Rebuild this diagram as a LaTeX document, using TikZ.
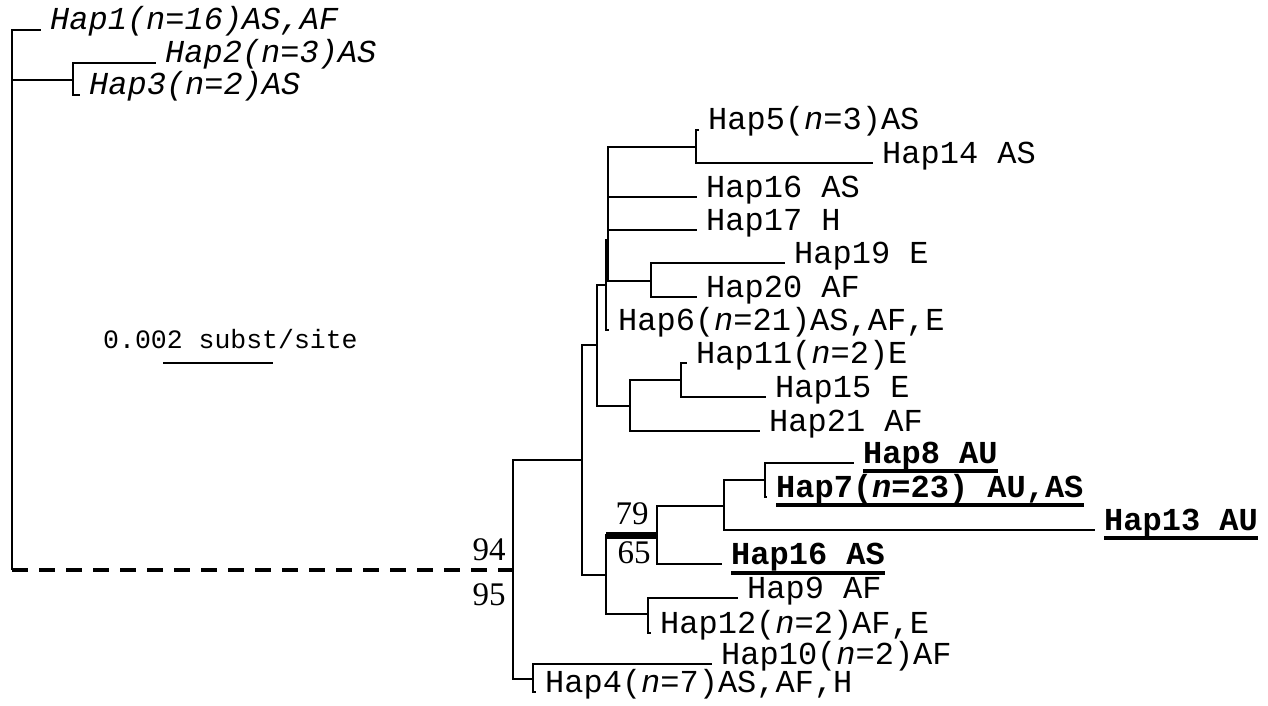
\documentclass[tikz,border=0pt]{standalone}
\usepackage{fontspec}
\setmainfont{Liberation Serif}
\setmonofont{Liberation Mono}
\usetikzlibrary{positioning,calc}
\tikzstyle{br}=[line width=2pt]
\tikzstyle{dsh}=[line width=4pt, dash pattern=on 16pt off 11pt]
\tikzstyle{thk}=[line width=7pt]
\tikzstyle{ul}=[line width=4pt]
\tikzstyle{lab}=[anchor=base west, inner sep=0pt, xshift=9pt, font=\fontsize{32}{36}\selectfont\ttfamily]
\tikzstyle{labi}=[lab, font=\fontsize{32}{36}\selectfont\ttfamily\itshape]
\tikzstyle{labb}=[lab, font=\fontsize{32}{36}\selectfont\ttfamily\bfseries]
\tikzstyle{bs}=[inner sep=0pt, font=\fontsize{33}{36}\selectfont]
\begin{document}
\begin{tikzpicture}[x=1pt,y=-1pt]
\useasboundingbox(0,0)rectangle(1268,706);
% inner nodes
\coordinate(r)at(12,80);
\coordinate(rb)at(12,570);
\coordinate(n23)at(73,80);
\coordinate(nR)at(513,570);
\coordinate(nA)at(582,460);
\coordinate(n597)at(597,345);
\coordinate(n606a)at(606,285);
\coordinate(n608)at(608,240);
\coordinate(n696)at(696,147);
\coordinate(n651)at(651,281);
\coordinate(n630)at(630,406);
\coordinate(n681)at(681,380);
\coordinate(n606b)at(606,575);
\coordinate(n657)at(657,535);
\coordinate(n724)at(724,506);
\coordinate(n765)at(765,480);
\coordinate(n648)at(648,614);
\coordinate(n533)at(533,679);
% tips
\coordinate(t1)at(41,30);
\coordinate(t2)at(156,63);
\coordinate(t3)at(80,95);
\coordinate(t5)at(699,130);
\coordinate(t14)at(873,163);
\coordinate(t16)at(697,197);
\coordinate(t17)at(697,230);
\coordinate(t19)at(785,263);
\coordinate(t20)at(697,297);
\coordinate(t6)at(609,330);
\coordinate(t11)at(687,363);
\coordinate(t15)at(766,397);
\coordinate(t21)at(760,431);
\coordinate(t8)at(854,463);
\coordinate(t7)at(767,497);
\coordinate(t13)at(1095,530);
\coordinate(t16b)at(722,564);
\coordinate(t9)at(738,598);
\coordinate(t12)at(651,633);
\coordinate(t10)at(712,664);
\coordinate(t4)at(536,692);
% labels
\node[labi](h1)at(t1){Hap1(n=16)AS,AF};
\node[labi](h2)at(t2){Hap2(n=3)AS};
\node[labi](h3)at(t3){Hap3(n=2)AS};
\node[lab](h5)at(t5){Hap5(\textit{n}=3)AS};
\node[lab](h14)at(t14){Hap14 AS};
\node[lab](h16)at(t16){Hap16 AS};
\node[lab](h17)at(t17){Hap17 H};
\node[lab](h19)at(t19){Hap19 E};
\node[lab](h20)at(t20){Hap20 AF};
\node[lab](h6)at(t6){Hap6(\textit{n}=21)AS,AF,E};
\node[lab](h11)at(t11){Hap11(\textit{n}=2)E};
\node[lab](h15)at(t15){Hap15 E};
\node[lab](h21)at(t21){Hap21 AF};
\node[labb](h8)at(t8){Hap8 AU};
\node[labb](h7)at(t7){Hap7(\textit{n}=23) AU,AS};
\node[labb](h13)at(t13){Hap13 AU};
\node[labb](h16b)at(t16b){Hap16 AS};
\node[lab](h9)at(t9){Hap9 AF};
\node[lab](h12)at(t12){Hap12(\textit{n}=2)AF,E};
\node[lab](h10)at(t10){Hap10(\textit{n}=2)AF};
\node[lab](h4)at(t4){Hap4(\textit{n}=7)AS,AF,H};
% underlines
\draw[ul]([yshift=-8pt]h8.base west)--([yshift=-8pt]h8.base east);
\draw[ul]([yshift=-8pt]h7.base west)--([yshift=-8pt]h7.base east);
\draw[ul]([yshift=-8pt]h13.base west)--([yshift=-8pt]h13.base east);
\draw[ul]([yshift=-9pt]h16b.base west)--([yshift=-9pt]h16b.base east);
% branches
\draw[br](r)|-(t1);
\draw[br](r)--(rb);
\draw[br](r)--(n23);
\draw[br](n23)|-(t2);
\draw[br](n23)|-(t3);
\draw[dsh](rb)--(nR);
\draw[br](nR)|-(nA);
\draw[br](nR)|-(n533);
\draw[br](nA)|-(n597);
\draw[br](nA)|-(n606b);
\draw[br](n597)|-(n606a);
\draw[br](n597)|-(n630);
\draw[br](n606a)|-(n608);
\draw[br](n606a)|-(t6);
\draw[br](n608)|-(n696);
\draw[br](n608)|-(t16);
\draw[br](n608)|-(t17);
\draw[br](n608)|-(n651);
\draw[br](n696)|-(t5);
\draw[br](n696)|-(t14);
\draw[br](n651)|-(t19);
\draw[br](n651)|-(t20);
\draw[br](n630)|-(n681);
\draw[br](n630)|-(t21);
\draw[br](n681)|-(t11);
\draw[br](n681)|-(t15);
\draw[br](n606b)|-(n657);
\draw[thk](n606b|-n657)--(n657);
\draw[br](n606b)|-(n648);
\draw[br](n657)|-(n724);
\draw[br](n657)|-(t16b);
\draw[br](n724)|-(n765);
\draw[br](n724)|-(t13);
\draw[br](n765)|-(t8);
\draw[br](n765)|-(t7);
\draw[br](n648)|-(t9);
\draw[br](n648)|-(t12);
\draw[br](n533)|-(t10);
\draw[br](n533)|-(t4);
% support values
\node[bs](b94)at(489,550){94};
\node[bs](b95)at(489,595){95};
\node[bs](b79)at(632,514){79};
\node[bs](b65)at(634,553){65};
% scale bar
\node[anchor=base west, inner sep=0pt, font=\fontsize{26.5}{30}\selectfont\ttfamily](sc)at(103,348){0.002 subst/site};
\coordinate(sb1)at(163,363);
\coordinate(sb2)at(273,363);
\draw[br](sb1)--(sb2);
\end{tikzpicture}
\end{document}
